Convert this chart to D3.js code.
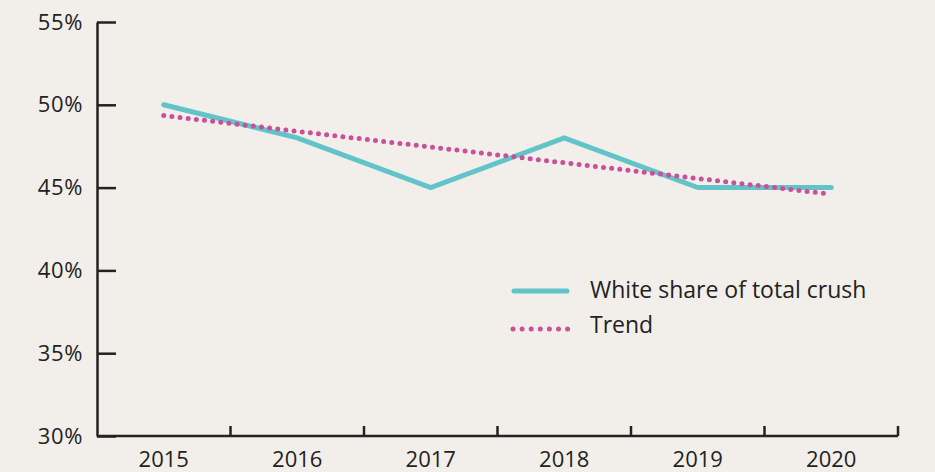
<!DOCTYPE html>
<html><head><meta charset="utf-8">
<script src="https://cdn.jsdelivr.net/npm/d3@7"></script>
<style>
html,body{margin:0;padding:0;background:#f2efea;}
svg{display:block;}
text{font-family:"Open Sans","Noto Sans",sans-serif;fill:#222;}
</style></head>
<body><svg id="c" width="935" height="472"></svg>
<script>
const years = ["2015","2016","2017","2018","2019","2020"];
const whiteShare = [50, 48, 45, 48, 45, 45];
const trend = [49.35, 48.4, 47.45, 46.5, 45.55, 44.6];
const yTicks = [30, 35, 40, 45, 50, 55];
const seriesNames = ["White share of total crush", "Trend"];

(function () {
const svg = d3.select("#c");
const mLeft = 97, mRight = 898, mTop = 22, mBottom = 436;
const x = d3.scaleBand().domain(years).range([mLeft, mRight]).padding(0);
const y = d3.scaleLinear().domain([30, 55]).range([mBottom, mTop]);
const axisColor = "#222";
const fs = "22px";

// y axis
const ya = svg.append("g").attr("transform", `translate(${mLeft},0)`)
  .call(d3.axisLeft(y).tickValues(yTicks).tickFormat(d => d + "%").tickSizeInner(-19).tickSizeOuter(0).tickPadding(14));
ya.selectAll("path,line").attr("stroke", axisColor).attr("stroke-width", 2.5);
ya.selectAll("text").style("font-size", fs).style("letter-spacing", "0.6px").attr("fill", "#222");

// x axis
const xa = svg.append("g").attr("transform", `translate(0,${mBottom})`)
  .call(d3.axisBottom(x).tickSize(0).tickPadding(12));
xa.select("path").attr("stroke", axisColor).attr("stroke-width", 2.5).attr("d", `M${mLeft},0H${mRight}`);
xa.selectAll("text").style("font-size", fs).attr("fill", "#222").attr("dy", "0.88em");
const bounds = years.slice(1).map(d => x(d)).concat([x.range()[1]]);
xa.selectAll("line.bnd").data(bounds).enter().append("line").attr("class","bnd")
  .attr("x1", d => d).attr("x2", d => d).attr("y1", 0).attr("y2", -10)
  .attr("stroke", axisColor).attr("stroke-width", 2.5);

const cx = d => x(d) + x.bandwidth() / 2;
const line = d3.line().x(d => cx(d[0])).y(d => y(d[1]));

svg.append("path").datum(years.map((d, i) => [d, whiteShare[i]]))
  .attr("d", line).attr("fill", "none").attr("stroke", "#62c4c8")
  .attr("stroke-width", 5).attr("stroke-linecap", "round").attr("stroke-linejoin", "miter");

svg.append("path").datum(years.map((d, i) => [d, trend[i]]))
  .attr("d", line).attr("fill", "none").attr("stroke", "#c9519b")
  .attr("stroke-width", 5).attr("stroke-linecap", "round").attr("stroke-dasharray", "0 8.2");

// legend
const lg = svg.append("g");
lg.append("line").attr("x1", 514).attr("x2", 567).attr("y1", 291).attr("y2", 291)
  .attr("stroke", "#62c4c8").attr("stroke-width", 5).attr("stroke-linecap", "round");
lg.append("line").attr("x1", 513).attr("x2", 568).attr("y1", 329).attr("y2", 329)
  .attr("stroke", "#c9519b").attr("stroke-width", 5).attr("stroke-linecap", "round").attr("stroke-dasharray", "0 9.1");
lg.selectAll("text").data(seriesNames).enter().append("text")
  .attr("x", 590).attr("y", (d, i) => 290 + i * 35).attr("dy", "0.35em")
  .style("font-size", "23px").text(d => d);
})();
</script></body></html>
